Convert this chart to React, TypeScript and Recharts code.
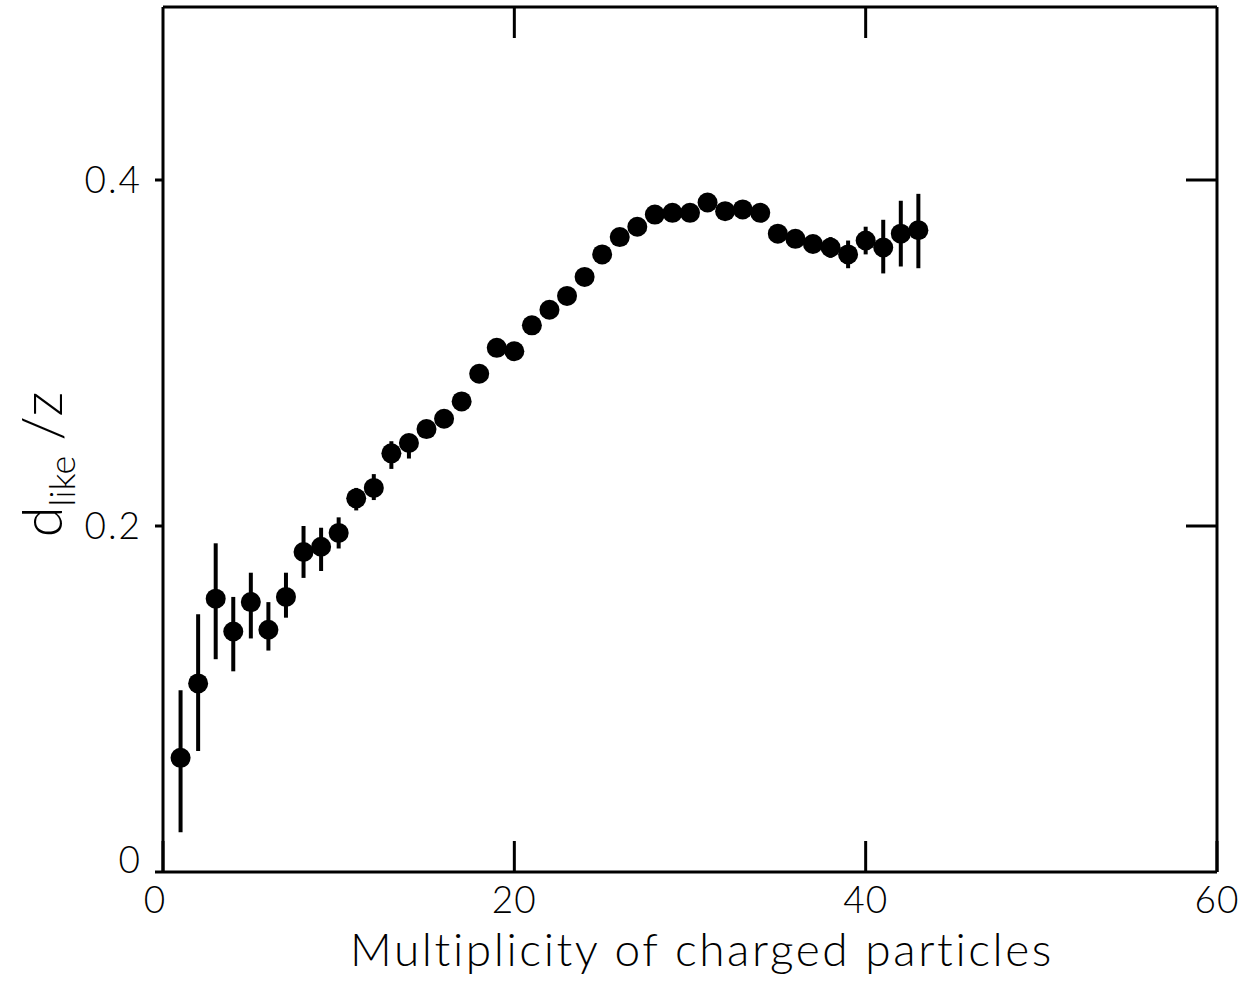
import React from 'react';
import { ScatterChart, Scatter, XAxis, YAxis, ErrorBar } from 'recharts';

// multiplicity of charged particles
const multiplicity = [
  1, 2, 3, 4, 5, 6, 7, 8, 9, 10, 11, 12, 13, 14, 15, 16, 17, 18, 19, 20, 21, 22,
  23, 24, 25, 26, 27, 28, 29, 30, 31, 32, 33, 34, 35, 36, 37, 38, 39, 40, 41, 42, 43,
];

// d_like / z
const dLike = [
  0.066, 0.109, 0.158, 0.139, 0.156, 0.14, 0.159, 0.185, 0.188, 0.196, 0.216, 0.222,
  0.242, 0.248, 0.256, 0.262, 0.272, 0.288, 0.303, 0.301, 0.316, 0.325, 0.333, 0.344,
  0.357, 0.367, 0.373, 0.38, 0.381, 0.381, 0.387, 0.382, 0.383, 0.381, 0.369, 0.366,
  0.363, 0.361, 0.357, 0.365, 0.361, 0.369, 0.371,
];

// error bar ends (absolute)
const errLow = [
  0.023, 0.07, 0.123, 0.116, 0.135, 0.128, 0.147, 0.17, 0.174, 0.187, 0.209, 0.215,
  0.233, 0.239, 0.256, 0.262, 0.272, 0.288, 0.303, 0.301, 0.316, 0.325, 0.333, 0.344,
  0.357, 0.367, 0.373, 0.38, 0.381, 0.381, 0.387, 0.382, 0.383, 0.381, 0.369, 0.366,
  0.358, 0.355, 0.349, 0.357, 0.346, 0.35, 0.349,
];
const errHigh = [
  0.105, 0.149, 0.19, 0.159, 0.173, 0.156, 0.173, 0.2, 0.199, 0.205, 0.222, 0.23,
  0.249, 0.253, 0.256, 0.262, 0.272, 0.288, 0.303, 0.301, 0.316, 0.325, 0.333, 0.344,
  0.357, 0.367, 0.373, 0.38, 0.381, 0.381, 0.387, 0.382, 0.383, 0.381, 0.369, 0.366,
  0.368, 0.367, 0.365, 0.373, 0.377, 0.388, 0.392,
];

const xTicks = [0, 20, 40, 60];
const yTicks = [0, 0.2, 0.4];

const data = multiplicity.map((m, i) => ({
  m,
  d: dLike[i],
  err: [dLike[i] - errLow[i], errHigh[i] - dLike[i]],
}));

const FONT = 'Lato, "DejaVu Sans", sans-serif';

const XTick = (props: any) => {
  const { x, y, payload } = props;
  return (
    <text x={payload.value === 0 ? x - 8 : x} y={y + 26} textAnchor="middle" fontSize={37} letterSpacing={1} fontFamily={FONT} fontWeight={300} fill="#000">
      {payload.value}
    </text>
  );
};

const YTick = (props: any) => {
  const { x, y, payload } = props;
  const label = payload.value === 0 ? '0' : payload.value.toFixed(1);
  return (
    <text x={x} y={payload.value === 0 ? y - 12 : y} dy={13} textAnchor="end" fontSize={37} letterSpacing={2} fontFamily={FONT} fontWeight={300} fill="#000">
      {label}
    </text>
  );
};

const NoTick = () => <g />;

export default function App() {
  return (
    <div style={{ position: 'absolute', left: 0, top: 0, background: '#fff' }}>
      <ScatterChart width={1250} height={983} margin={{ top: 7, right: 32, bottom: 0, left: 0 }}>
        <XAxis
          xAxisId="b"
          type="number"
          dataKey="m"
          domain={[0, 60]}
          ticks={xTicks}
          interval={0}
          allowDataOverflow
          orientation="bottom"
          height={111}
          axisLine={{ stroke: '#000', strokeWidth: 3 }}
          tickLine={{ stroke: '#000', strokeWidth: 3 }}
          tickSize={-31}
          tickMargin={46}
          tick={<XTick />}
          label={{
            content: () => (
              <text x={702} y={966} textAnchor="middle" fontSize={46} letterSpacing={2.6} fontFamily={FONT} fontWeight={300} fill="#000">
                Multiplicity of charged particles
              </text>
            ),
          }}
        />
        <XAxis
          xAxisId="t"
          type="number"
          dataKey="m"
          domain={[0, 60]}
          ticks={[20, 40]}
          interval={0}
          allowDataOverflow
          orientation="top"
          mirror
          height={1}
          axisLine={{ stroke: '#000', strokeWidth: 3 }}
          tickLine={{ stroke: '#000', strokeWidth: 3 }}
          tickSize={31}
          tick={<NoTick />}
        />
        <YAxis
          yAxisId="l"
          type="number"
          dataKey="d"
          domain={[0, 0.5]}
          ticks={yTicks}
          interval={0}
          allowDataOverflow
          width={163}
          axisLine={{ stroke: '#000', strokeWidth: 3 }}
          tickLine={{ stroke: '#000', strokeWidth: 3 }}
          tickSize={8}
          tickMargin={13}
          tick={<YTick />}
          label={{
            content: (p: any) => {
              const vb = p.viewBox || { y: 8, height: 864 };
              const cy = vb.y + vb.height / 2 + 25;
              return (
                <text transform={`translate(62,${cy}) rotate(-90)`} textAnchor="middle" fontFamily={FONT} fontWeight={300} fill="#000">
                  <tspan fontSize={56}>d</tspan>
                  <tspan fontSize={36} dy={13}>like</tspan>
                  <tspan fontSize={56} dy={-13}> /z</tspan>
                </text>
              );
            },
          }}
        />
        <YAxis
          yAxisId="r"
          type="number"
          domain={[0, 0.5]}
          ticks={[0.2, 0.4]}
          interval={0}
          allowDataOverflow
          orientation="right"
          width={1}
          axisLine={{ stroke: '#000', strokeWidth: 3 }}
          tickLine={{ stroke: '#000', strokeWidth: 3 }}
          tickSize={-31}
          tick={<NoTick />}
        />
        <Scatter
          data={data}
          xAxisId="b"
          yAxisId="l"
          dataKey="d"
          fill="#000"
          isAnimationActive={false}
          shape={(p: any) => <circle cx={p.cx} cy={p.cy} r={10} fill="#000" />}
        >
          <ErrorBar dataKey="err" direction="y" width={0} stroke="#000" strokeWidth={4} isAnimationActive={false} />
        </Scatter>
      </ScatterChart>
    </div>
  );
}
